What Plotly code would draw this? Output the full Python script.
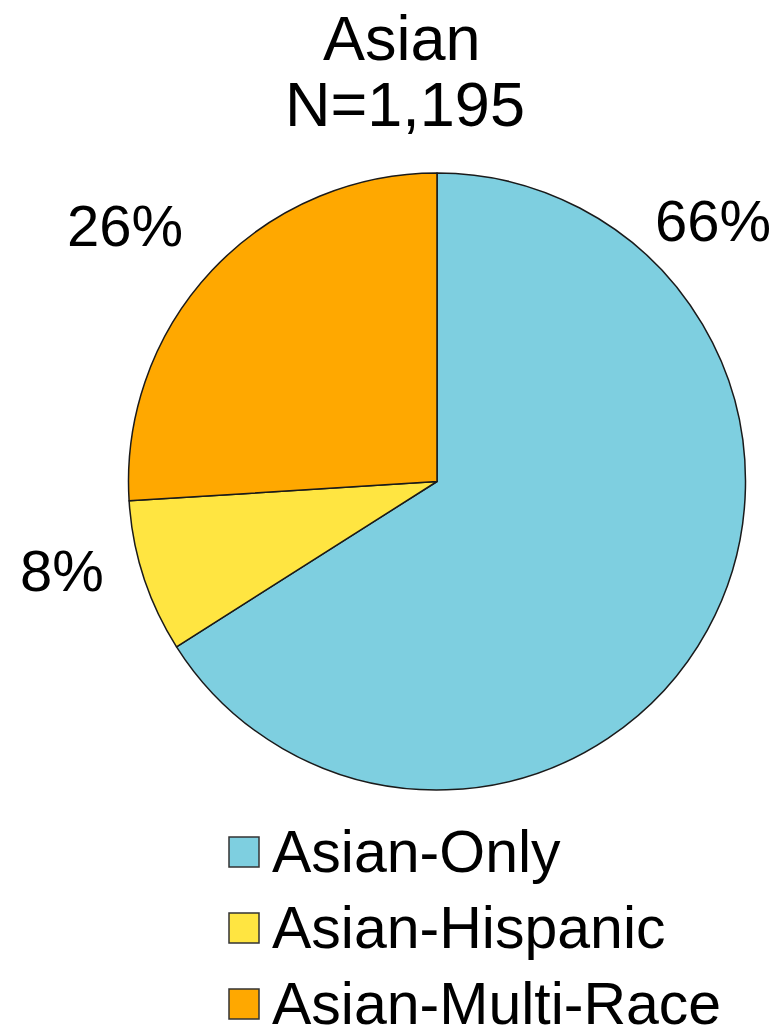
import plotly.graph_objects as go

# Data
categories = ["Asian-Only", "Asian-Hispanic", "Asian-Multi-Race"]
shares = [66, 8, 26]
colors = ["#7ecfe0", "#ffe541", "#ffa800"]
title_lines = ["Asian", "N=1,195"]

W, H = 779, 1027
FONT = "Liberation Sans, Arial, sans-serif"

def px(x):
    return x / W

def py(y):
    return 1 - y / H

fig = go.Figure()
fig.add_trace(go.Pie(
    labels=categories,
    values=shares,
    sort=False,
    direction="clockwise",
    rotation=0,
    marker=dict(colors=colors, line=dict(color="#1a1a1a", width=1.5)),
    textinfo="none",
    hoverinfo="label+percent",
    showlegend=False,
    domain=dict(x=[px(128), px(746)], y=[py(790), py(173)]),
))

annotations = []
# Title
annotations.append(dict(x=px(402), y=py(38), text=title_lines[0], showarrow=False,
                        xref="paper", yref="paper", xanchor="center", yanchor="middle",
                        font=dict(family=FONT, size=63, color="black")))
annotations.append(dict(x=px(405), y=py(104), text=title_lines[1], showarrow=False,
                        xref="paper", yref="paper", xanchor="center", yanchor="middle",
                        font=dict(family=FONT, size=63, color="black")))

# Percentage labels
label_pos = [(713, 220), (62, 570), (125, 225)]
for v, (lx, ly) in zip(shares, label_pos):
    annotations.append(dict(x=px(lx), y=py(ly), text=f"{v}%", showarrow=False,
                            xref="paper", yref="paper", xanchor="center", yanchor="middle",
                            font=dict(family=FONT, size=58, color="black")))

# Custom legend
shapes = []
row_centers = [852, 928, 1004]
for name, col, cy in zip(categories, colors, row_centers):
    shapes.append(dict(type="rect", xref="paper", yref="paper",
                       x0=px(229), x1=px(259), y0=py(cy + 15), y1=py(cy - 15),
                       fillcolor=col, line=dict(color="#333333", width=1.5)))
    annotations.append(dict(x=px(270), y=py(cy), text=name, showarrow=False,
                            xref="paper", yref="paper", xanchor="left", yanchor="middle",
                            font=dict(family=FONT, size=59, color="black")))

fig.update_layout(
    width=W, height=H,
    margin=dict(l=0, r=0, t=0, b=0),
    paper_bgcolor="white",
    plot_bgcolor="white",
    annotations=annotations,
    shapes=shapes,
    showlegend=False,
)

fig.write_html("out.html",
               config={"displayModeBar": False},
               post_script="document.body.style.margin='0';document.body.style.overflow='hidden';")
